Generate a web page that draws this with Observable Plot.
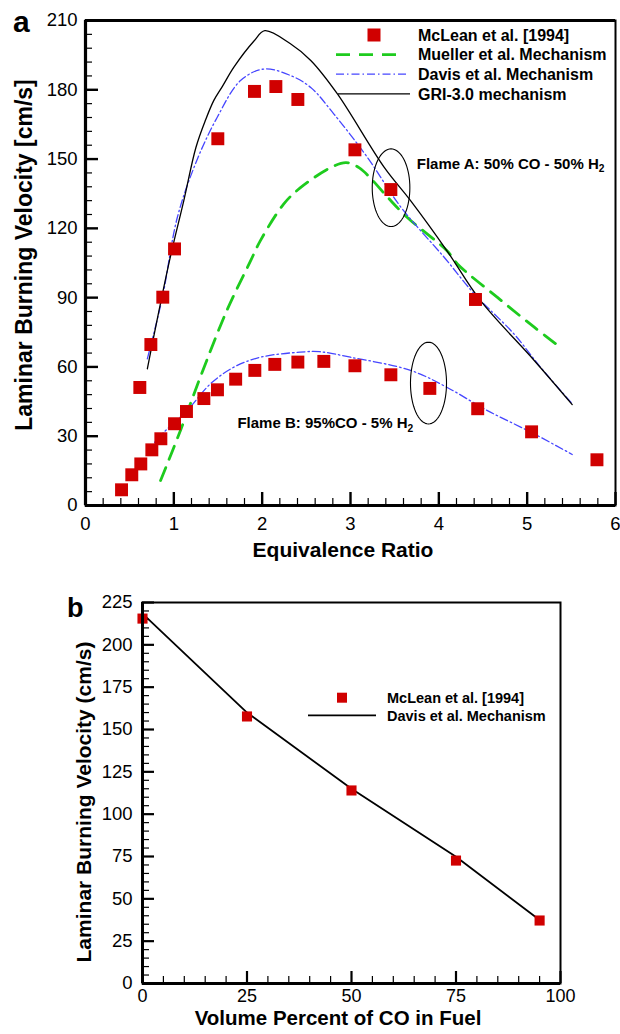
<!DOCTYPE html>
<html><head><meta charset="utf-8">
<script src="https://cdn.jsdelivr.net/npm/d3@7"></script>
<script src="https://cdn.jsdelivr.net/npm/@observablehq/plot@0.6"></script>
<style>
body{margin:0;background:#fff;}
#wrap{position:relative;width:620px;height:1034px;overflow:hidden;}
#wrap svg{display:block;position:absolute;left:0;}
</style></head><body><div id="wrap"></div>
<script>
const FONT = '"Liberation Sans", Arial, Helvetica, sans-serif';
const RED = "#d00000", GREEN = "#1ecb1e", BLUE = "#4646ff";

// ---------- Panel a data ----------
// McLean et al. [1994], Flame A (50% CO - 50% H2)
const mcleanA_phi = [0.615, 0.74, 0.875, 1.008, 1.498, 1.913, 2.155, 2.404, 3.05, 3.457, 4.415];
const mcleanA_su  = [51.1, 69.7, 90.2, 111.1, 158.8, 179.3, 181.4, 175.8, 154.0, 136.8, 89.2];
// McLean et al. [1994], Flame B (95% CO - 5% H2)
const mcleanB_phi = [0.408, 0.524, 0.626, 0.751, 0.853, 1.008, 1.143, 1.34, 1.494, 1.70, 1.917, 2.143, 2.404, 2.698, 3.05, 3.457, 3.898, 4.44, 5.05, 5.79];
const mcleanB_su  = [6.8, 13.3, 18.0, 24.1, 28.9, 35.4, 40.7, 46.3, 50.1, 54.7, 58.5, 61.1, 62.1, 62.4, 60.5, 56.6, 50.7, 41.9, 31.9, 19.8];
// GRI-3.0 mechanism, Flame A
const griA_phi = [0.70, 0.951, 1.113, 1.25, 1.36, 1.453, 1.55, 1.68, 1.905, 2.03, 2.32, 2.55, 2.85, 3.38, 3.68, 4.09, 4.47, 5.08, 5.51];
const griA_su  = [59.2, 106.0, 132.0, 155.0, 167.0, 175.4, 181.5, 189.8, 201.0, 205.6, 199.9, 192.7, 178.3, 146.5, 132.0, 110.4, 88.8, 62.8, 43.7];
// Davis et al. mechanism, Flame A
const davisA_phi = [0.70, 0.87, 1.04, 1.26, 1.49, 1.755, 2.02, 2.32, 2.55, 2.81, 3.19, 3.57, 4.06, 4.40, 4.85, 5.15, 5.50];
const davisA_su  = [63.5, 90.0, 124.8, 149.4, 168.0, 184.0, 189.0, 186.2, 181.0, 169.6, 150.8, 129.2, 107.5, 91.7, 74.3, 59.9, 44.5];
// Mueller et al. mechanism
const muellerA_phi = [0.85, 1.075, 1.30, 1.60, 1.87, 1.98, 2.245, 2.43, 2.77, 2.95, 3.10, 3.227, 3.42, 3.64, 4.09, 4.21, 4.66, 5.08, 5.40];
const muellerA_su  = [10.8, 32.5, 55.6, 84.4, 106.0, 114.7, 130.6, 137.5, 146.2, 148.5, 146.2, 141.7, 133.5, 124.8, 110.4, 104.6, 90.2, 77.2, 67.8];
// Davis et al. mechanism, Flame B
const davisB_phi = [0.70, 0.887, 1.15, 1.415, 1.68, 1.98, 2.43, 2.65, 3.0, 3.68, 4.09, 4.55, 5.08, 5.51];
const davisB_su  = [23.8, 31.7, 41.1, 52.7, 59.9, 64.2, 66.4, 66.6, 64.2, 58.5, 51.2, 41.1, 31.0, 22.1];

// annotations (panel a)
const flameLabels = [
  {x: 3.75, y: 148, text: "Flame A: 50% CO - 50% H₂"},
  {x: 1.72, y: 35.5, text: "Flame B: 95%CO - 5% H₂"}
];
const ellipses = [
  {id: "A", cx: 3.459, cy: 137.6, rx: 0.213, ry: 16.8},
  {id: "B", cx: 3.883, cy: 53.0, rx: 0.204, ry: 17.7}
];

// ticks (panel a)
const xMajorA = [0, 1, 2, 3, 4, 5, 6];
const yMajorA = [0, 30, 60, 90, 120, 150, 180, 210];
const xMinorA = d3.range(0, 31).map(i => i * 0.2).filter(v => Math.abs(v - Math.round(v)) > 1e-6);
const yMinorA = d3.range(0, 36).map(i => i * 6).filter(v => v % 30 !== 0);

// ---------- Panel b data ----------
const coPct_exp = [0, 25, 50, 75, 95];
const su_exp    = [215.5, 157.7, 114.0, 72.6, 37.2];
const coPct_davis = [0, 25, 50, 75, 95];
const su_davis    = [218.4, 160.0, 115.0, 74.8, 37.5];
const xMajorB = [0, 25, 50, 75, 100];
const yMajorB = [0, 25, 50, 75, 100, 125, 150, 175, 200, 225];
const xMinorB = d3.range(0, 101, 5).filter(v => v % 25 !== 0);
const yMinorB = d3.range(0, 226, 5).filter(v => v % 25 !== 0);

// ---------- helpers ----------
const zip = (xs, ys) => xs.map((x, i) => ({x, y: ys[i]}));
const ellipsePts = ellipses.flatMap(e => d3.range(0, 73).map(i => {
  const t = i / 72 * 2 * Math.PI;
  return {id: e.id, x: e.cx + e.rx * Math.cos(t), y: e.cy + e.ry * Math.sin(t)};
}));

function subscript(svg) {
  d3.select(svg).selectAll("text").each(function () {
    if (this.childElementCount === 0 && this.textContent.includes("₂")) {
      const parts = this.textContent.split("₂");
      const t = d3.select(this);
      t.text(null);
      t.append("tspan").text(parts[0]);
      t.append("tspan").attr("font-size", "0.68em").attr("dy", "0.32em").text("2");
    }
  });
}

const wrap = document.getElementById("wrap");
const W = 620;

// ---------- Panel a ----------
const HA = 575, mA = {t: 20, r: 5, b: 70, l: 85};
const iwA = W - mA.l - mA.r, ihA = HA - mA.t - mA.b;
const plotA = Plot.plot({
  width: W, height: HA,
  marginTop: mA.t, marginRight: mA.r, marginBottom: mA.b, marginLeft: mA.l,
  style: {fontFamily: FONT, background: "white", color: "black", overflow: "visible"},
  x: {domain: [0, 6]},
  y: {domain: [0, 210]},
  marks: [
    Plot.tickX(xMinorA, {x: d => d, insetTop: ihA - 7, strokeWidth: 1.2}),
    Plot.tickX(xMajorA, {x: d => d, insetTop: ihA - 13, strokeWidth: 2.4}),
    Plot.tickY(yMinorA, {y: d => d, insetRight: iwA - 7, strokeWidth: 1.2}),
    Plot.tickY(yMajorA, {y: d => d, insetRight: iwA - 13, strokeWidth: 2.4}),
    Plot.axisX({ticks: xMajorA, tickSize: 0, tickPadding: 11, fontSize: 18.5, tickFormat: d3.format("d"), label: null}),
    Plot.axisY({ticks: yMajorA, tickSize: 0, tickPadding: 8, fontSize: 18.5, tickFormat: d3.format("d"), label: null}),
    Plot.line(zip(muellerA_phi, muellerA_su), {x: "x", y: "y", curve: "catmull-rom", stroke: GREEN, strokeWidth: 2.8, strokeDasharray: "14,9"}),
    Plot.line(zip(davisA_phi, davisA_su), {x: "x", y: "y", curve: "catmull-rom", stroke: BLUE, strokeWidth: 1.3, strokeDasharray: "8,3,1.5,3"}),
    Plot.line(zip(davisB_phi, davisB_su), {x: "x", y: "y", curve: "catmull-rom", stroke: BLUE, strokeWidth: 1.3, strokeDasharray: "8,3,1.5,3"}),
    Plot.line(zip(griA_phi, griA_su), {x: "x", y: "y", curve: "catmull-rom", stroke: "black", strokeWidth: 1.3}),
    Plot.dot(zip(mcleanA_phi, mcleanA_su), {x: "x", y: "y", symbol: "square", r: 7.3, fill: RED, stroke: "none"}),
    Plot.dot(zip(mcleanB_phi, mcleanB_su), {x: "x", y: "y", symbol: "square", r: 7.3, fill: RED, stroke: "none"}),
    Plot.line(ellipsePts, {x: "x", y: "y", z: "id", curve: "linear", stroke: "black", strokeWidth: 1.1}),
    Plot.text(flameLabels, {x: "x", y: "y", text: "text", textAnchor: "start", fontWeight: "bold", fontSize: 15, fill: "black"}),
    Plot.frame({strokeWidth: 2}),
    Plot.ruleY([210], {strokeWidth: 2.8}),
    Plot.ruleX([0], {strokeWidth: 3.2}),
    Plot.ruleY([0], {strokeWidth: 3.2})
  ]
});
plotA.style.top = "0px";
subscript(plotA);
wrap.appendChild(plotA);

// ---------- Panel b ----------
const TOPB = 575, HB = 459, mB = {t: 27, r: 60, b: 51, l: 142};
const iwB = W - mB.l - mB.r, ihB = HB - mB.t - mB.b;
const plotB = Plot.plot({
  width: W, height: HB,
  marginTop: mB.t, marginRight: mB.r, marginBottom: mB.b, marginLeft: mB.l,
  style: {fontFamily: FONT, background: "white", color: "black", overflow: "visible"},
  x: {domain: [0, 100]},
  y: {domain: [0, 225]},
  marks: [
    Plot.tickX(xMinorB, {x: d => d, insetTop: ihB - 7, strokeWidth: 1.2}),
    Plot.tickX(xMajorB, {x: d => d, insetTop: ihB - 12, strokeWidth: 2.2}),
    Plot.tickY(yMinorB, {y: d => d, insetRight: iwB - 7, strokeWidth: 1.2}),
    Plot.tickY(yMajorB, {y: d => d, insetRight: iwB - 12, strokeWidth: 2.2}),
    Plot.axisX({ticks: xMajorB, tickSize: 0, tickPadding: 6, fontSize: 18, tickFormat: d3.format("d"), label: null}),
    Plot.axisY({ticks: yMajorB, tickSize: 0, tickPadding: 10, fontSize: 18.5, tickFormat: d3.format("d"), label: null}),
    Plot.line(zip(coPct_davis, su_davis), {x: "x", y: "y", stroke: "black", strokeWidth: 1.8}),
    Plot.dot(zip(coPct_exp, su_exp), {x: "x", y: "y", symbol: "square", r: 5.7, fill: RED, stroke: "none"}),
    Plot.frame({strokeWidth: 2}),
    Plot.ruleX([0], {strokeWidth: 3}),
    Plot.ruleY([0], {strokeWidth: 3})
  ]
});
plotB.style.top = TOPB + "px";
wrap.appendChild(plotB);

// ---------- Overlay: titles, legends, panel letters ----------
const ov = d3.select(wrap).append("svg")
  .attr("width", W).attr("height", 1034)
  .style("top", "0px").style("pointer-events", "none")
  .style("font-family", FONT);

function title(x, y, txt, size, rot) {
  ov.append("text").attr("transform", `translate(${x},${y})` + (rot ? ` rotate(${rot})` : ""))
    .attr("text-anchor", "middle").attr("font-weight", "bold").attr("font-size", size).text(txt);
}
title(343, 557, "Equivalence Ratio", 21);
title(32, 255, "Laminar Burning Velocity [cm/s]", 23, -90);
title(338, 1025, "Volume Percent of CO in Fuel", 20.5);
title(91, 802, "Laminar Burning Velocity (cm/s)", 21, -90);

ov.append("text").attr("x", 13).attr("y", 32).attr("font-weight", "bold").attr("font-size", 30).text("a");
ov.append("text").attr("x", 67).attr("y", 617).attr("font-weight", "bold").attr("font-size", 27).text("b");

// legend a
const legA = [
  {label: "McLean et al. [1994]", kind: "square"},
  {label: "Mueller et al. Mechanism", kind: "line", stroke: GREEN, w: 2.8, dash: "14,9", x1: 336, x2: 400},
  {label: "Davis et al. Mechanism", kind: "line", stroke: BLUE, w: 1.3, dash: "8,3,1.5,3", x1: 336, x2: 407},
  {label: "GRI-3.0 mechanism", kind: "line", stroke: "black", w: 1.3, dash: null, x1: 338, x2: 410}
];
legA.forEach((d, i) => {
  const y = 35 + i * 19.6;
  if (d.kind === "square") {
    ov.append("rect").attr("x", 374 - 6.5).attr("y", y - 6.5).attr("width", 13).attr("height", 13).attr("fill", RED);
  } else {
    ov.append("line").attr("x1", d.x1).attr("x2", d.x2).attr("y1", y).attr("y2", y)
      .attr("stroke", d.stroke).attr("stroke-width", d.w).attr("stroke-dasharray", d.dash);
  }
  ov.append("text").attr("x", 418).attr("y", y).attr("dy", "0.36em")
    .attr("font-weight", "bold").attr("font-size", 16).text(d.label);
});

// legend b
const legB = [
  {label: "McLean et al. [1994]", kind: "square"},
  {label: "Davis et al. Mechanism", kind: "line"}
];
legB.forEach((d, i) => {
  const y = 697.7 + i * 17.6;
  if (d.kind === "square") {
    ov.append("rect").attr("x", 342 - 5).attr("y", y - 5).attr("width", 10).attr("height", 10).attr("fill", RED);
  } else {
    ov.append("line").attr("x1", 308).attr("x2", 376).attr("y1", y).attr("y2", y)
      .attr("stroke", "black").attr("stroke-width", 1.8);
  }
  ov.append("text").attr("x", 387).attr("y", y).attr("dy", "0.36em")
    .attr("font-weight", "bold").attr("font-size", 14.5).text(d.label);
});
</script></body></html>
